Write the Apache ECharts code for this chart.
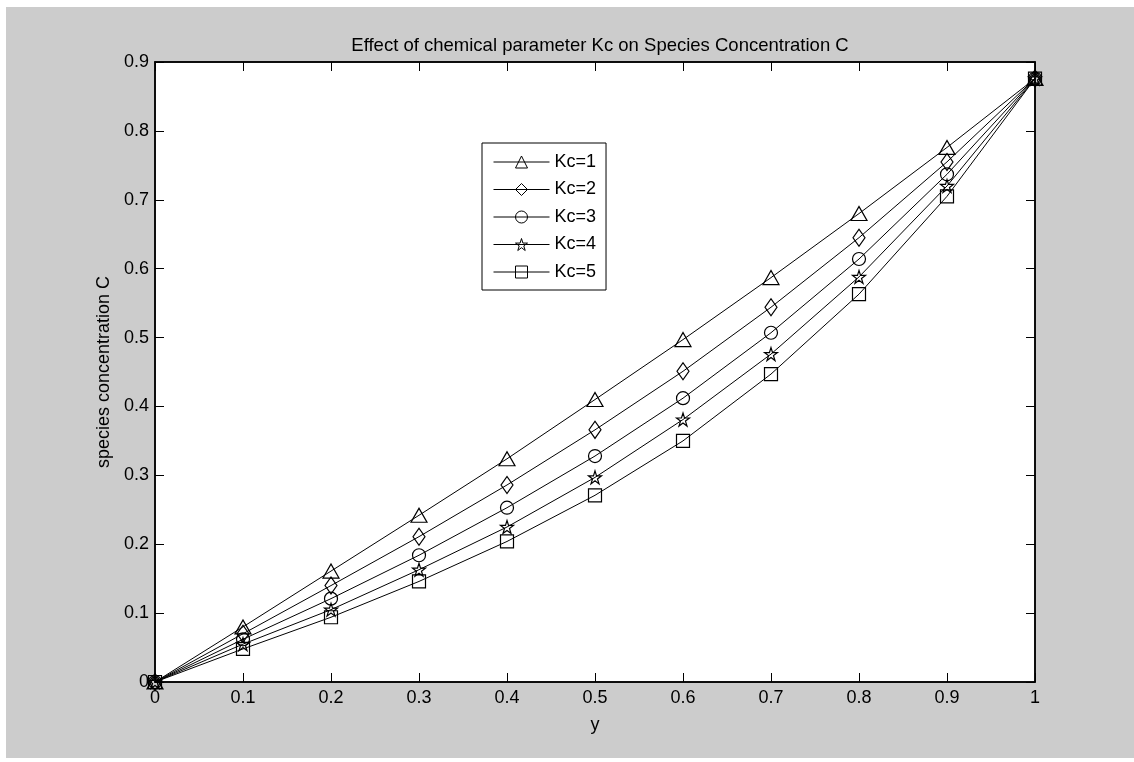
<!DOCTYPE html>
<html>
<head>
<meta charset="utf-8">
<script src="https://cdn.jsdelivr.net/npm/echarts@6/dist/echarts.min.js"></script>
<style>
html,body{margin:0;padding:0;background:#fff;}
#bg{position:absolute;left:6px;top:7px;width:1128px;height:751px;background:#cccccc;}
#chart{position:absolute;left:0;top:0;width:1134px;height:762px;}
</style>
</head>
<body>
<div id="bg"></div>
<div id="chart"></div>
<script>
const xValues = [0, 0.1, 0.2, 0.3, 0.4, 0.5, 0.6, 0.7, 0.8, 0.9, 1];
const kc1 = [0, 0.080, 0.161, 0.242, 0.324, 0.410, 0.497, 0.587, 0.680, 0.776, 0.876];
const kc2 = [0, 0.070, 0.140, 0.211, 0.286, 0.366, 0.451, 0.544, 0.645, 0.755, 0.876];
const kc3 = [0, 0.062, 0.121, 0.184, 0.253, 0.328, 0.412, 0.507, 0.614, 0.737, 0.876];
const kc4 = [0, 0.055, 0.105, 0.163, 0.225, 0.297, 0.381, 0.476, 0.588, 0.720, 0.876];
const kc5 = [0, 0.048, 0.094, 0.146, 0.204, 0.271, 0.350, 0.447, 0.563, 0.705, 0.876];
const seriesNames = ['Kc=1', 'Kc=2', 'Kc=3', 'Kc=4', 'Kc=5'];
const xTicks = ['0','0.1','0.2','0.3','0.4','0.5','0.6','0.7','0.8','0.9','1'];
const yTicks = ['0','0.1','0.2','0.3','0.4','0.5','0.6','0.7','0.8','0.9'];

const FONT = '"Liberation Sans", Arial, sans-serif';
const starPath = 'path://M50,0 L61.8,36.2 L100,36.2 L69.1,58.8 L80.9,95.1 L50,72.7 L19.1,95.1 L30.9,58.8 L0,36.2 L38.2,36.2 Z';
const symbols = ['triangle', 'diamond', 'circle', starPath, 'rect'];
const sizes = [[16, 14], [12, 17], 13, 13, 13];
const allData = [kc1, kc2, kc3, kc4, kc5];

const series = allData.map((arr, i) => ({
  name: seriesNames[i],
  type: 'line',
  xAxisIndex: 0,
  yAxisIndex: 0,
  data: xValues.map((x, j) => [x, arr[j]]),
  symbol: symbols[i],
  symbolSize: sizes[i],
  showAllSymbol: true,
  lineStyle: { color: '#000', width: 1 },
  itemStyle: { color: 'rgba(255,255,255,0)', borderColor: '#000', borderWidth: 1.2 },
  emphasis: { disabled: true },
  animation: false
}));

const tickStyle = { show: true, inside: true, length: 9, lineStyle: { color: '#000', width: 1 } };

const chart = echarts.init(document.getElementById('chart'), null, { renderer: 'canvas' });
chart.setOption({
  backgroundColor: 'transparent',
  animation: false,
  title: {
    text: 'Effect of chemical parameter Kc on Species Concentration C',
    left: 595,
    top: 31,
    textAlign: 'center',
    textStyle: { fontFamily: FONT, fontSize: 18.5, fontWeight: 'normal', color: '#000' }
  },
  legend: {
    orient: 'vertical',
    left: 482,
    top: 143,
    padding: [10, 10, 9, 11],
    itemWidth: 56,
    itemHeight: 15,
    itemGap: 9.5,
    backgroundColor: '#fff',
    borderColor: '#000',
    borderWidth: 1,
    borderRadius: 0,
    itemStyle: { borderWidth: 1 },
    lineStyle: { width: 1 },
    textStyle: { fontFamily: FONT, fontSize: 18, color: '#000' },
    data: seriesNames
  },
  grid: {
    left: 155, right: 99, top: 62, bottom: 80,
    show: true,
    backgroundColor: '#fff',
    borderColor: '#000',
    borderWidth: 1.5
  },
  xAxis: [{
    type: 'value', min: 0, max: 1, interval: 0.1,
    position: 'bottom',
    name: 'y', nameLocation: 'middle', nameGap: 34,
    nameTextStyle: { fontFamily: FONT, fontSize: 18, color: '#000' },
    axisLine: { show: true, onZero: false, lineStyle: { color: '#000', width: 1.5 } },
    axisTick: tickStyle,
    axisLabel: { fontFamily: FONT, fontSize: 18, color: '#000', margin: 7,
      formatter: (v) => xTicks[Math.round(v * 10)] },
    splitLine: { show: false }
  }, {
    type: 'value', min: 0, max: 1, interval: 0.1,
    position: 'top',
    axisLine: { show: true, onZero: false, lineStyle: { color: '#000', width: 1.5 } },
    axisTick: tickStyle,
    axisLabel: { show: false },
    splitLine: { show: false }
  }],
  yAxis: [{
    type: 'value', min: 0, max: 0.9, interval: 0.1,
    position: 'left',
    name: 'species concentration C', nameLocation: 'middle', nameGap: 40,
    nameTextStyle: { fontFamily: FONT, fontSize: 18, color: '#000' },
    axisLine: { show: true, onZero: false, lineStyle: { color: '#000', width: 1.5 } },
    axisTick: tickStyle,
    axisLabel: { fontFamily: FONT, fontSize: 18, color: '#000', margin: 6,
      formatter: (v) => yTicks[Math.round(v * 10)] },
    splitLine: { show: false }
  }, {
    type: 'value', min: 0, max: 0.9, interval: 0.1,
    position: 'right',
    axisLine: { show: true, onZero: false, lineStyle: { color: '#000', width: 1.5 } },
    axisTick: tickStyle,
    axisLabel: { show: false },
    splitLine: { show: false }
  }],
  series: series
});
</script>
</body>
</html>
